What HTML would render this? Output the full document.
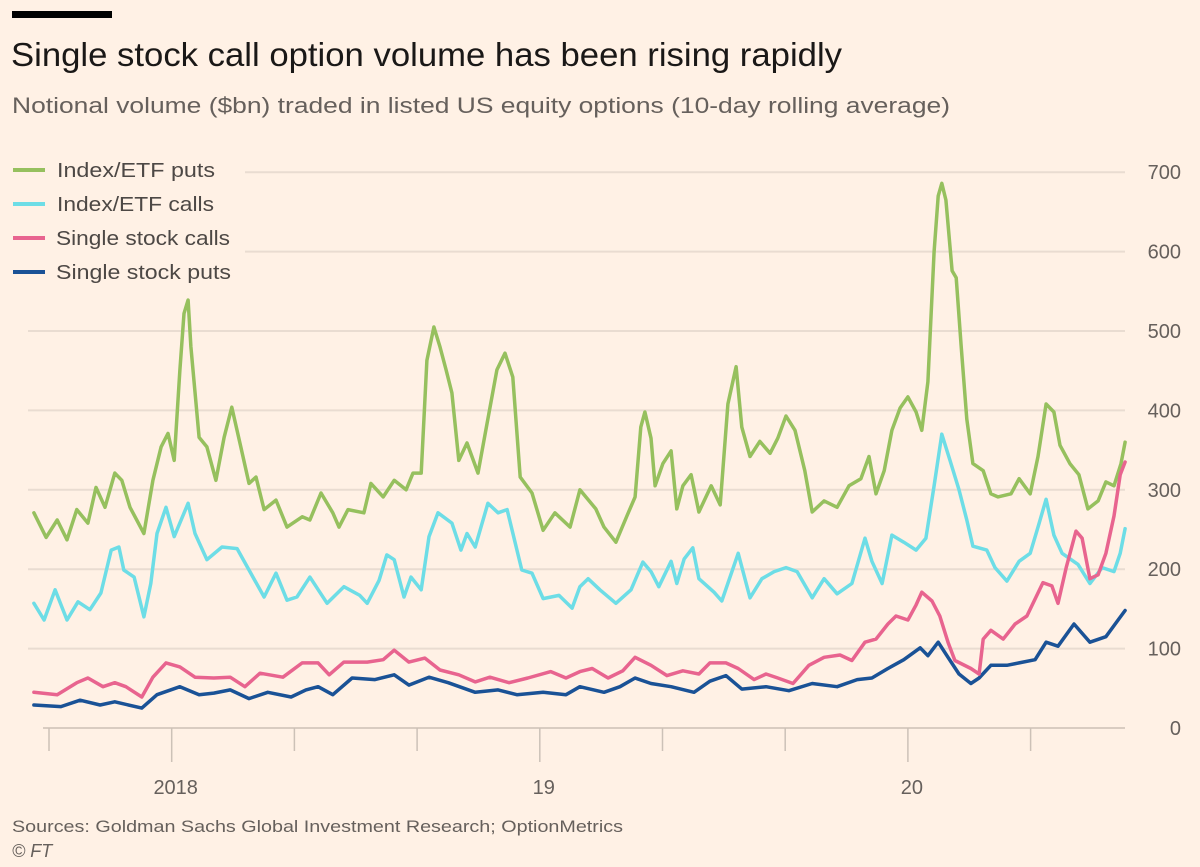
<!DOCTYPE html>
<html><head><meta charset="utf-8"><style>
body{margin:0;background:#fff1e5;}
#wrap{position:relative;width:1200px;height:867px;background:#fff1e5;overflow:hidden;font-family:"Liberation Sans",sans-serif;}
svg text{font-family:"Liberation Sans",sans-serif;}
</style></head><body>
<div id="wrap">
<svg id="chart" width="1200" height="867" viewBox="0 0 1200 867">
<rect x="12" y="11" width="100" height="7" fill="#000"/>
<text x="11" y="66" font-size="33" fill="#1a1817" textLength="831" lengthAdjust="spacingAndGlyphs">Single stock call option volume has been rising rapidly</text>
<text x="12" y="113" font-size="22" fill="#66605c" textLength="938" lengthAdjust="spacingAndGlyphs">Notional volume ($bn) traded in listed US equity options (10-day rolling average)</text>
<g id="grid"></g>
<g id="xaxis"></g>
<g id="yaxis"></g>
<g id="lines"></g>
<g>
<g><line x1="13" y1="170" x2="45" y2="170" stroke="#96c05e" stroke-width="4"/><text x="57" y="177" font-size="20" fill="#4d4845" textLength="158" lengthAdjust="spacingAndGlyphs">Index/ETF puts</text></g>
<g><line x1="13" y1="204" x2="45" y2="204" stroke="#6ddde6" stroke-width="4"/><text x="57" y="211" font-size="20" fill="#4d4845" textLength="157" lengthAdjust="spacingAndGlyphs">Index/ETF calls</text></g>
<g><line x1="13" y1="238" x2="45" y2="238" stroke="#e8648f" stroke-width="4"/><text x="56" y="245" font-size="20" fill="#4d4845" textLength="174" lengthAdjust="spacingAndGlyphs">Single stock calls</text></g>
<g><line x1="13" y1="272" x2="45" y2="272" stroke="#1a5296" stroke-width="4"/><text x="56" y="279" font-size="20" fill="#4d4845" textLength="175" lengthAdjust="spacingAndGlyphs">Single stock puts</text></g>
</g>
<text x="12" y="832" font-size="17" fill="#66605c" textLength="611" lengthAdjust="spacingAndGlyphs">Sources: Goldman Sachs Global Investment Research; OptionMetrics</text>
<text x="12" y="857" font-size="18" fill="#66605c" font-style="italic">© FT</text>
</svg>
</div>
<script>
// time index: 3 units per axis tick interval (ticks every 4 months, 0 = 1 Sep 2017)
const yTicks=[0,100,200,300,400,500,600,700];
const tickTimes=[0,3,6,9,12,15,18,21,24];
const yearLabels=["2018","19","20"];
const yearTimes=[3,12,21];
const greenT=[-0.37,-0.07,0.20,0.44,0.68,0.95,1.15,1.37,1.61,1.78,1.98,2.32,2.54,2.74,2.91,3.06,3.20,3.30,3.40,3.47,3.67,3.86,4.08,4.28,4.47,4.69,4.89,5.06,5.26,5.55,5.82,6.19,6.38,6.65,6.94,7.09,7.31,7.70,7.87,8.17,8.44,8.73,8.90,9.10,9.24,9.41,9.56,9.71,9.85,10.02,10.22,10.49,10.68,10.95,11.15,11.34,11.52,11.81,12.08,12.37,12.74,12.98,13.37,13.57,13.86,14.13,14.33,14.47,14.57,14.72,14.82,15.01,15.21,15.35,15.50,15.70,15.89,16.19,16.41,16.60,16.80,16.94,17.14,17.38,17.63,17.82,18.02,18.24,18.48,18.66,18.95,19.27,19.56,19.85,20.05,20.22,20.42,20.61,20.81,21.00,21.20,21.34,21.49,21.64,21.74,21.83,21.93,22.08,22.18,22.30,22.44,22.59,22.84,23.03,23.20,23.52,23.72,23.99,24.18,24.38,24.57,24.72,24.96,25.18,25.40,25.65,25.84,26.04,26.21,26.31];
const greenV=[271,240,262,237,275,258,303,278,321,312,278,245,312,354,371,337,451,522,539,480,366,354,312,366,404,354,308,316,275,287,253,266,262,296,271,253,275,271,308,291,312,300,321,321,463,505,480,451,422,337,359,321,375,451,472,442,316,296,249,271,253,300,276,253,234,267,291,379,398,365,305,333,349,276,305,319,272,305,281,408,455,379,342,361,346,365,393,375,324,272,286,278,305,314,342,295,324,375,403,417,398,375,436,600,670,686,665,576,567,482,389,333,324,295,291,295,314,295,342,408,398,356,333,319,276,286,310,305,333,360];
const cyanT=[-0.37,-0.12,0.15,0.44,0.71,1.00,1.27,1.52,1.71,1.83,2.08,2.32,2.49,2.64,2.86,3.06,3.40,3.57,3.86,4.23,4.60,4.89,5.26,5.55,5.82,6.06,6.38,6.80,7.21,7.60,7.78,8.07,8.26,8.44,8.68,8.85,9.10,9.29,9.51,9.85,10.07,10.22,10.42,10.73,10.98,11.20,11.56,11.81,12.08,12.47,12.79,12.98,13.18,13.47,13.86,14.23,14.52,14.72,14.91,15.21,15.35,15.53,15.74,15.89,16.26,16.45,16.85,17.14,17.43,17.73,18.02,18.29,18.66,18.95,19.27,19.63,19.95,20.12,20.37,20.61,20.90,21.20,21.44,21.64,21.83,22.03,22.25,22.44,22.59,22.93,23.13,23.42,23.72,23.99,24.18,24.38,24.57,24.77,25.16,25.45,25.75,26.04,26.19,26.31];
const cyanV=[157,136,174,136,159,149,170,224,228,199,190,140,182,245,278,241,283,245,212,228,226,199,165,195,161,165,190,157,178,167,157,186,218,212,165,190,174,241,271,258,224,245,228,283,271,275,199,195,163,167,151,178,188,174,157,174,209,197,178,210,182,213,227,188,171,160,220,164,188,197,202,197,164,188,169,182,239,210,182,243,234,224,239,305,370,337,300,262,229,224,202,185,210,220,253,288,243,220,206,182,202,197,220,251];
const pinkT=[-0.37,0.20,0.68,0.95,1.32,1.61,1.88,2.27,2.54,2.86,3.20,3.57,4.03,4.43,4.79,5.16,5.72,6.19,6.58,6.85,7.21,7.78,8.17,8.44,8.80,9.19,9.56,10.02,10.42,10.78,11.25,11.71,12.27,12.64,12.98,13.28,13.67,14.03,14.33,14.72,15.11,15.50,15.89,16.16,16.55,16.85,17.24,17.53,17.82,18.19,18.58,18.95,19.34,19.63,19.95,20.22,20.51,20.71,21.00,21.20,21.34,21.59,21.78,21.98,22.15,22.54,22.74,22.84,23.03,23.33,23.62,23.91,24.30,24.52,24.67,24.87,25.11,25.26,25.45,25.65,25.84,26.04,26.19,26.31];
const pinkV=[45,42,57,63,52,57,52,39,64,82,77,64,63,64,52,69,64,82,82,67,83,83,86,98,83,88,73,67,58,64,57,63,71,63,71,75,63,72,89,79,66,72,68,82,82,75,61,68,63,56,79,89,92,85,108,112,131,141,136,155,171,160,141,108,85,75,68,112,123,112,131,141,183,179,157,202,248,239,188,193,220,267,319,335];
const navyT=[-0.37,0.29,0.76,1.25,1.61,2.27,2.64,3.20,3.67,4.03,4.43,4.89,5.35,5.92,6.28,6.58,6.94,7.41,7.97,8.44,8.80,9.29,9.76,10.42,10.98,11.44,12.08,12.64,12.98,13.57,13.96,14.33,14.72,15.21,15.77,16.16,16.55,16.94,17.53,18.09,18.66,19.27,19.76,20.12,20.51,20.90,21.30,21.49,21.74,21.98,22.25,22.54,22.74,23.03,23.42,23.72,24.11,24.38,24.67,25.06,25.45,25.84,26.14,26.31];
const navyV=[29,27,35,29,33,25,42,52,42,44,48,37,45,39,48,52,42,63,61,67,54,64,57,45,48,42,45,42,52,45,52,63,56,52,45,59,66,49,52,47,56,52,61,63,75,86,101,91,108,89,68,56,63,79,79,82,86,108,103,131,108,115,136,148];

const NS="http://www.w3.org/2000/svg";
function xS(t){return 49+t*40.9;}
function yS(v){return 728-v*0.794;}
function mk(tag,attrs,parent){const e=document.createElementNS(NS,tag);for(const k in attrs)e.setAttribute(k,attrs[k]);parent.appendChild(e);return e;}
const grid=document.getElementById('grid'),xa=document.getElementById('xaxis'),ya=document.getElementById('yaxis'),lines=document.getElementById('lines');
yTicks.forEach(v=>{
  const x1=v>=600?245:(v===0?43:28);
  const l=mk('line',{x1:x1,x2:1125,y1:yS(v),y2:yS(v),stroke:v===0?'#d9ccc1':'#e9dcd1','stroke-width':2},grid);
  
  
  const t=mk('text',{x:1181,y:yS(v)+7,'font-size':20,fill:'#66605c','text-anchor':'end'},ya);
  t.textContent=v;
  
  
});
tickTimes.forEach(t=>{
  const isYear=yearTimes.indexOf(t)>=0;
  const l=mk('line',{x1:xS(t),x2:xS(t),y1:728,y2:isYear?762:751,stroke:'#ccc1b7','stroke-width':1.5},xa);
  
  
});
yearLabels.forEach((lab,i)=>{
  const t=mk('text',{x:xS(yearTimes[i])+4,y:794,'font-size':20,fill:'#66605c','text-anchor':'middle'},xa);
  t.textContent=lab;
  
  
});
function drawLine(T,V,color,name){
  let d='';
  for(let i=0;i<T.length&&i<V.length;i++){d+=(i?'L':'M')+xS(T[i]).toFixed(1)+','+yS(V[i]).toFixed(1);}
  const p=mk('path',{d:d,fill:'none',stroke:color,'stroke-width':3.5,'stroke-linejoin':'round','stroke-linecap':'round'},lines);
  
  
}
drawLine(greenT,greenV,'#96c05e','line-index-etf-puts');
drawLine(cyanT,cyanV,'#6ddde6','line-index-etf-calls');
drawLine(navyT,navyV,'#1a5296','line-single-stock-puts');
drawLine(pinkT,pinkV,'#e8648f','line-single-stock-calls');
</script>
</body></html>
